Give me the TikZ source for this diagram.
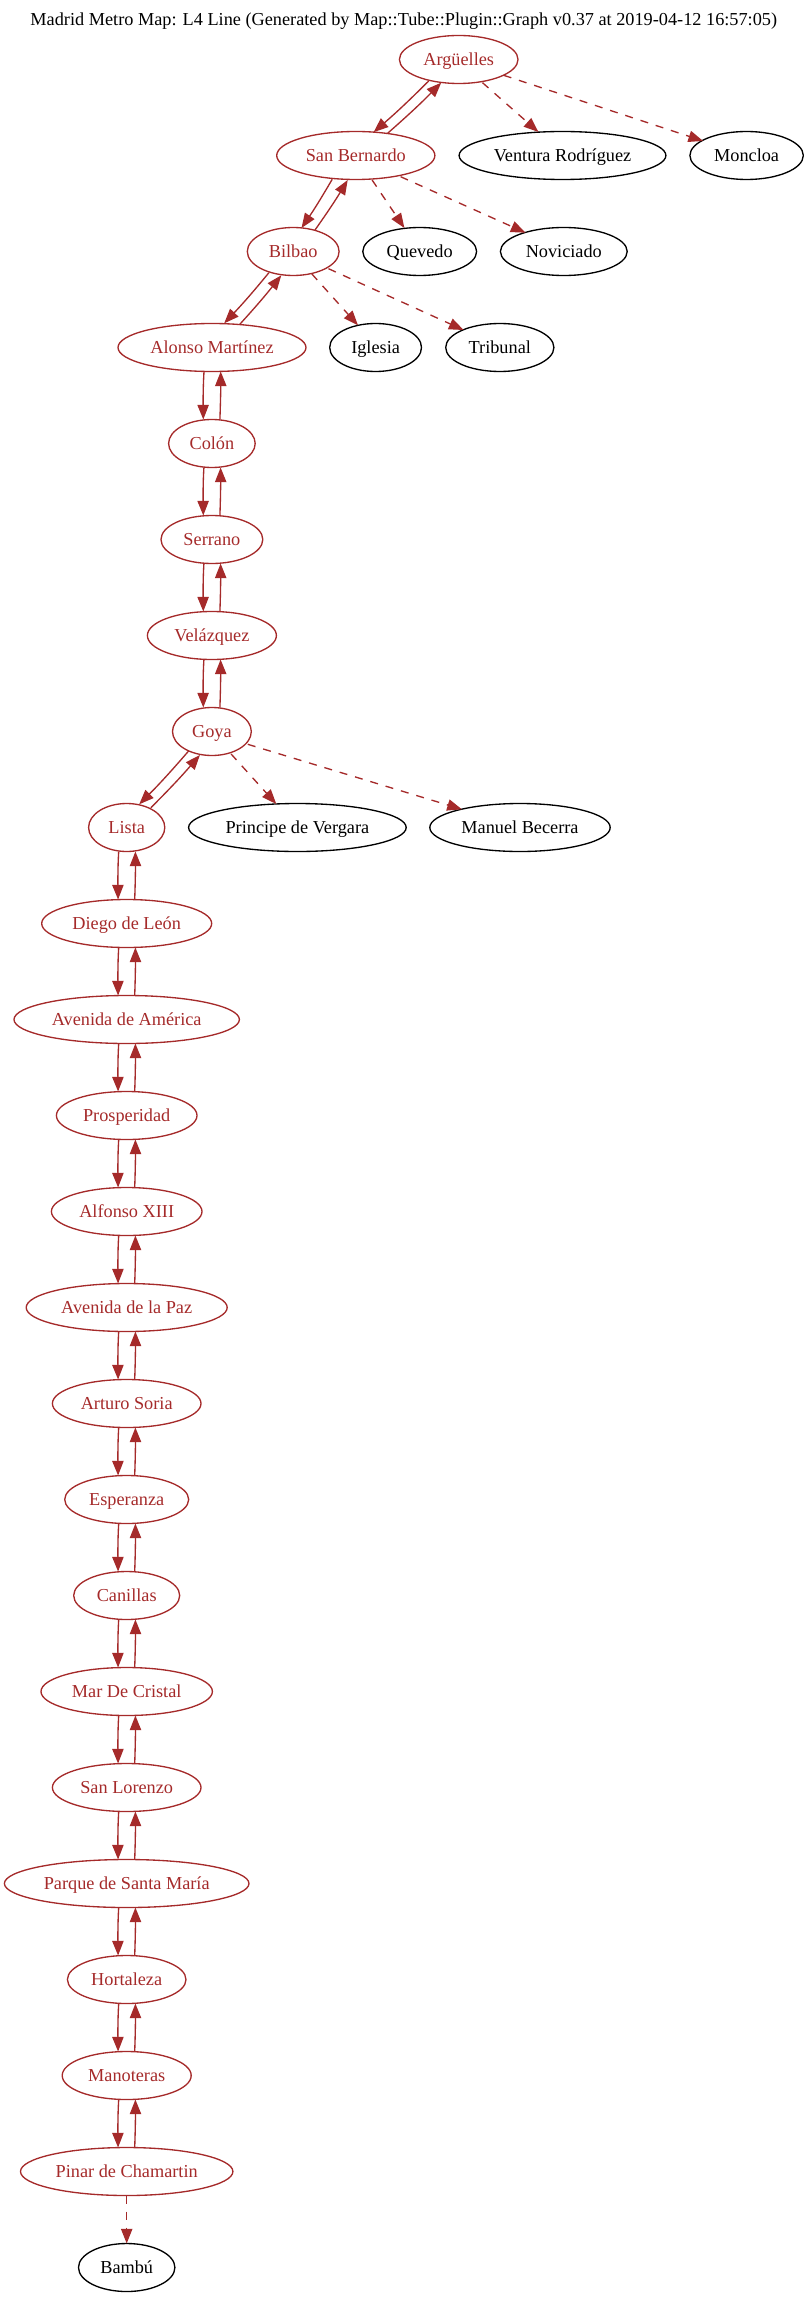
\documentclass[tikz,border=0pt]{standalone}
\usepackage{fontspec}
\setmainfont{Liberation Serif}
\usetikzlibrary{arrows.meta,calc,shapes.geometric}
\definecolor{linecol}{HTML}{A52A2A}
\tikzset{
  stbase/.style={ellipse,draw,inner sep=0pt,outer sep=0pt,line width=1pt,minimum height=36pt,
    font=\fontsize{13.7pt}{16pt}\selectfont,text height=11.4pt,text depth=3pt},
  online/.style={stbase,draw=linecol,text=linecol},
  offline/.style={stbase,draw=black,text=black},
  rw/.style={minimum width=1.5*#1 pt},
  conn/.style={draw=linecol,line width=1pt,-{Triangle[length=11pt,width=8.5pt]},fill=none},
  spur/.style={conn,dash pattern=on 6pt off 6pt},
  titletext/.style={inner sep=0pt,font=\fontsize{13.7pt}{16pt}\selectfont,text height=11.4pt,text depth=3pt}
}
\newcommand{\vpair}[2]{%
  \draw[conn] ($(#1.south)+(-8,0.1)$) .. controls ($(#1.south)+(-9,16)$) and ($(#2.north)+(-8.8,-16)$) .. ($(#2.north)+(-8.6,0)$);
  \draw[conn] ($(#2.north)+(8,-0.1)$) .. controls ($(#2.north)+(8.6,-16)$) and ($(#1.south)+(8.8,16)$) .. ($(#1.south)+(8.7,0)$);
}
\begin{document}
\begin{tikzpicture}[x=0.75pt,y=-0.75pt]
\useasboundingbox (0,0) rectangle (808,2297);
\node[titletext] (title) at (403.8,20) {Madrid Metro Map: L4 Line (Generated by Map::Tube::Plugin::Graph v0.37 at 2019-04-12 16:57:05)};
\node[online,rw=59.3] (arg) at (458.7,59.5) {Argüelles};
\node[online,rw=79.1] (sb) at (355.8,155.5) {San Bernardo};
\node[offline,rw=103.4] (ven) at (562.5,155.5) {Ventura Rodríguez};
\node[offline,rw=56.7] (mon) at (746.6,155.5) {Moncloa};
\node[online,rw=45.9] (bil) at (293.2,251.5) {Bilbao};
\node[offline,rw=56.9] (que) at (419.7,251.5) {Quevedo};
\node[offline,rw=63.4] (nov) at (563.8,251.5) {Noviciado};
\node[online,rw=94] (alo) at (212,347.5) {Alonso Martínez};
\node[offline,rw=45.9] (igl) at (375.6,347.5) {Iglesia};
\node[offline,rw=54.1] (tri) at (499.8,347.5) {Tribunal};
\node[online,rw=43.3] (col) at (211.9,443.5) {Colón};
\node[online,rw=50.9] (ser) at (211.9,539.5) {Serrano};
\node[online,rw=64.5] (vel) at (211.9,635.5) {Velázquez};
\node[online,rw=39.4] (goy) at (211.9,731.5) {Goya};
\node[online,rw=38.1] (lis) at (126.7,827.5) {Lista};
\node[offline,rw=108.8] (pri) at (297.4,827.5) {Principe de Vergara};
\node[offline,rw=90.2] (man) at (520,827.5) {Manuel Becerra};
\node[online,rw=85] (die) at (126.7,923.5) {Diego de León};
\node[online,rw=112.7] (ame) at (126.7,1019.5) {Avenida de América};
\node[online,rw=70.3] (pro) at (126.7,1115.5) {Prosperidad};
\node[online,rw=75.3] (alf) at (126.7,1211.5) {Alfonso XIII};
\node[online,rw=100.5] (paz) at (126.7,1307.5) {Avenida de la Paz};
\node[online,rw=74.3] (art) at (126.7,1403.5) {Arturo Soria};
\node[online,rw=62] (esp) at (126.7,1499.5) {Esperanza};
\node[online,rw=53] (can) at (126.7,1595.5) {Canillas};
\node[online,rw=85.7] (mar) at (126.7,1691.5) {Mar De Cristal};
\node[online,rw=74.3] (lor) at (126.7,1787.5) {San Lorenzo};
\node[online,rw=122.3] (par) at (126.7,1883.5) {Parque de Santa María};
\node[online,rw=59.3] (hor) at (126.7,1979.5) {Hortaleza};
\node[online,rw=64.5] (mnt) at (126.7,2075.5) {Manoteras};
\node[online,rw=106.2] (pin) at (126.7,2171.5) {Pinar de Chamartin};
\node[offline,rw=48.2] (bam) at (126.7,2267.5) {Bambú};
% diagonal pairs
\draw[conn] ($(arg)+(-30,21.5)$) to[bend left=2] ($(sb)+(17.8,-23.3)$);
\draw[conn] ($(sb)+(31.8,-22.2)$) to[bend right=2] ($(arg)+(-17.5,23.2)$);
\draw[conn] ($(sb)+(-23.6,23.8)$) to[bend left=2] ($(bil)+(8.3,-23.5)$);
\draw[conn] ($(bil)+(21.8,-21.5)$) to[bend right=2] ($(sb)+(-8.1,24.5)$);
\draw[conn] ($(bil)+(-24.3,21.2)$) to[bend left=2] ($(alo)+(12.2,-24.2)$);
\draw[conn] ($(alo)+(27.8,-23.2)$) to[bend right=2] ($(bil)+(-11.9,23.8)$);
\draw[conn] ($(goy)+(-23.3,19.5)$) to[bend left=2] ($(lis)+(12.5,-23.2)$);
\draw[conn] ($(lis)+(24.2,-19.8)$) to[bend right=2] ($(goy)+(-12,23.5)$);
% dashed spurs
\draw[spur] ($(arg)+(23.8,23.2)$) -- ($(ven)+(-24.1,-23.5)$);
\draw[spur] ($(arg)+(45,15.8)$) -- ($(mon)+(-43.5,-14.5)$);
\draw[spur] ($(sb)+(16.3,24.5)$) -- ($(que)+(-15.3,-23.5)$);
\draw[spur] ($(sb)+(44.8,21.2)$) -- ($(nov)+(-38.3,-18.8)$);
\draw[spur] ($(bil)+(18.7,22.5)$) -- ($(igl)+(-17.6,-22.2)$);
\draw[spur] ($(bil)+(35.3,17.2)$) -- ($(tri)+(-36.2,-17.5)$);
\draw[spur] ($(goy)+(19.2,22.5)$) -- ($(pri)+(-21.1,-23.5)$);
\draw[spur] ($(goy)+(35.9,12.8)$) -- ($(man)+(-58.1,-18.2)$);
\draw[spur] (pin.south) -- (bam.north);
% vertical pairs
\vpair{alo}{col}
\vpair{col}{ser}
\vpair{ser}{vel}
\vpair{vel}{goy}
\vpair{lis}{die}
\vpair{die}{ame}
\vpair{ame}{pro}
\vpair{pro}{alf}
\vpair{alf}{paz}
\vpair{paz}{art}
\vpair{art}{esp}
\vpair{esp}{can}
\vpair{can}{mar}
\vpair{mar}{lor}
\vpair{lor}{par}
\vpair{par}{hor}
\vpair{hor}{mnt}
\vpair{mnt}{pin}
\end{tikzpicture}
\end{document}
